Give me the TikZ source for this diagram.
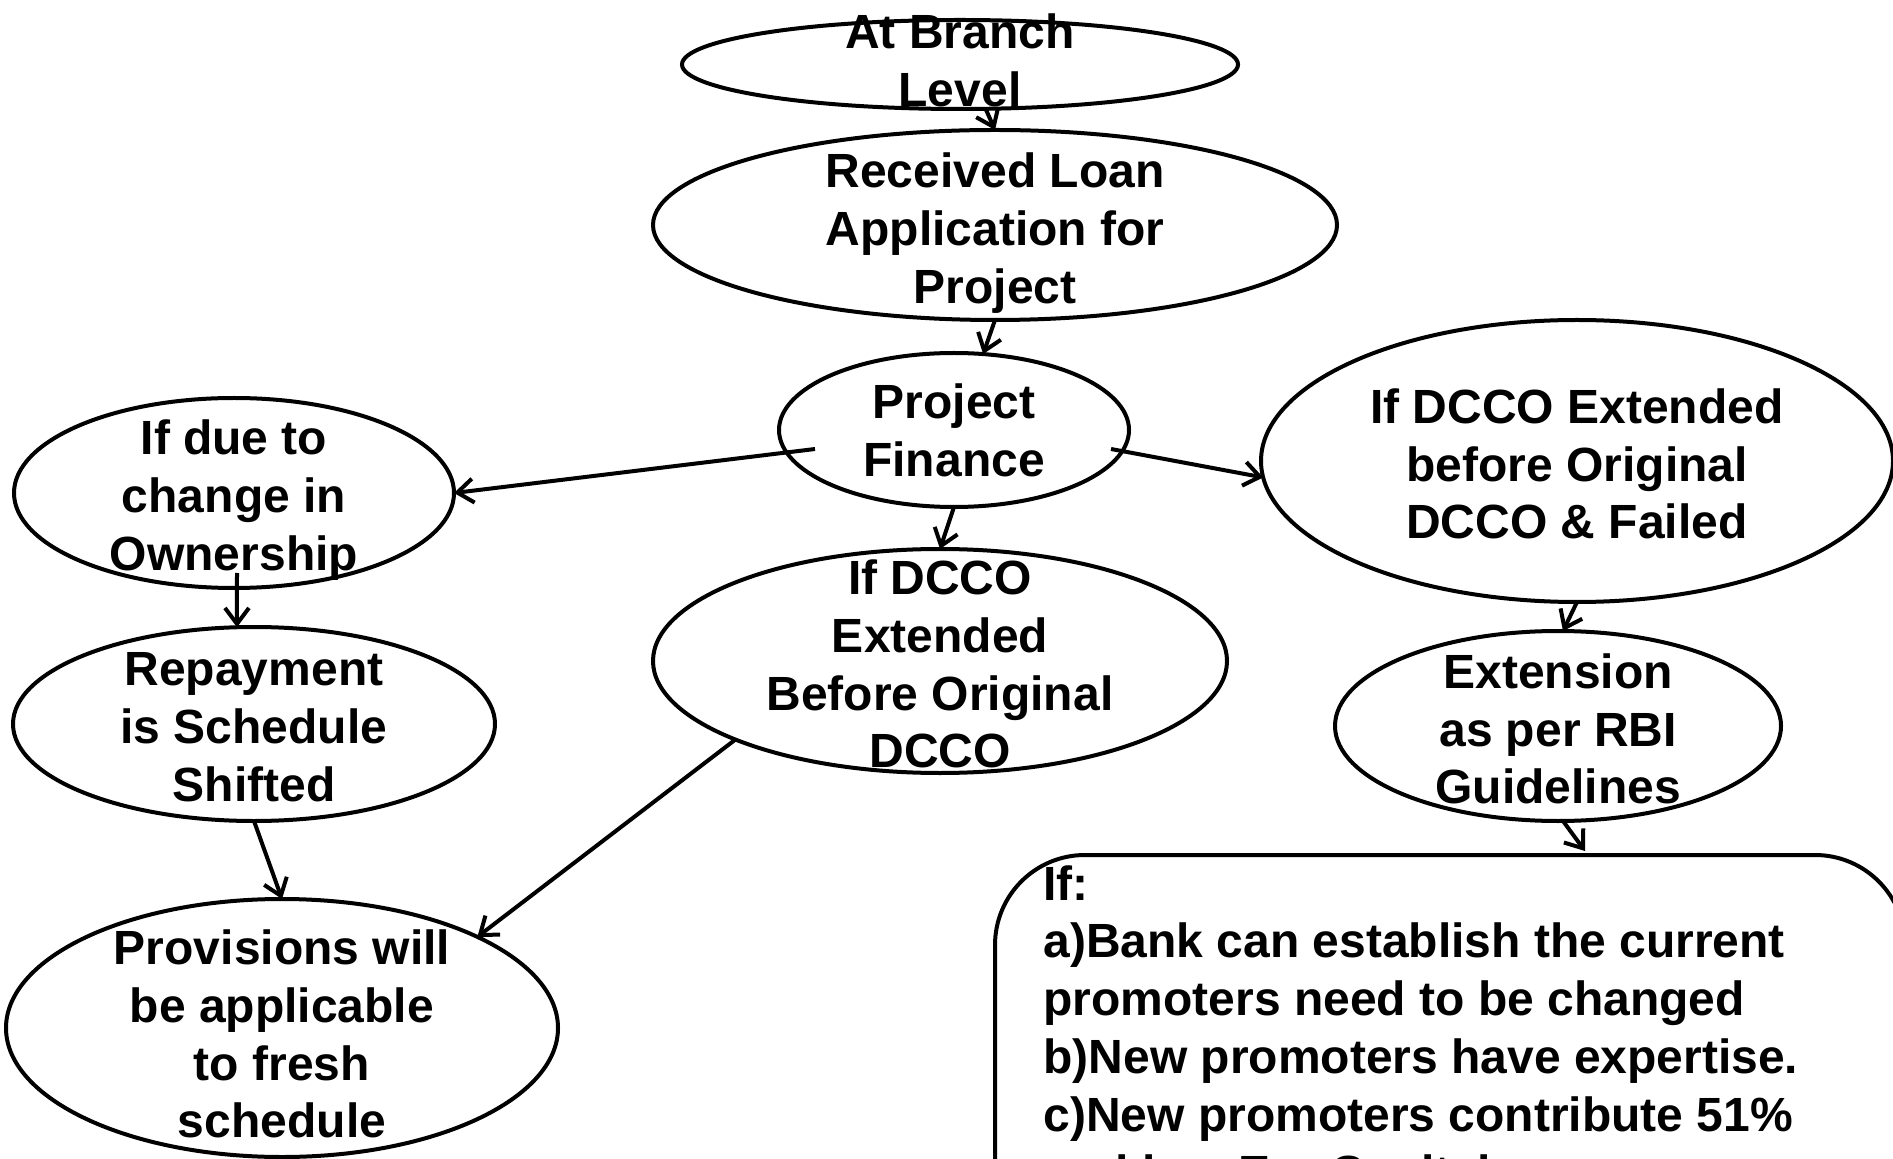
\documentclass[tikz,border=0pt]{standalone}
\usepackage{fontspec}
\setmainfont{Liberation Sans}
\usetikzlibrary{shapes.geometric,arrows.meta,calc}
\begin{document}
\begin{tikzpicture}[x=0.5pt,y=-0.5pt,
  ell/.style={draw, ellipse, line width=2pt, inner sep=0pt, outer sep=0pt},
  txt/.style={align=center, font=\fontsize{24pt}{28.9pt}\selectfont\bfseries, inner sep=0pt},
  arr/.style={line width=2pt, -{Straight Barb[length=8pt,width=12pt,line width=2pt]}}]
\useasboundingbox (0,0) rectangle (1893,1159);
\clip (0,0) rectangle (1893,1159);
% ellipses
\node[ell, minimum width=278pt, minimum height=44.5pt] (e1) at (960,64.5) {};
\node[ell, minimum width=342pt, minimum height=95pt] (e2) at (995,225) {};
\node[ell, minimum width=175pt, minimum height=77pt] (e3) at (954,430) {};
\node[ell, minimum width=220pt, minimum height=95pt] (e4) at (234,493) {};
\node[ell, minimum width=316pt, minimum height=141pt] (e5) at (1577,461) {};
\node[ell, minimum width=241pt, minimum height=97pt] (e6) at (254,724) {};
\node[ell, minimum width=287pt, minimum height=112pt] (e7) at (940,661) {};
\node[ell, minimum width=223pt, minimum height=95pt] (e8) at (1558,726) {};
\node[ell, minimum width=276pt, minimum height=129pt] (e9) at (282,1028) {};
\node[draw, line width=2pt, rounded corners=45pt, minimum width=455pt, minimum height=225pt, anchor=north west, inner sep=0pt, outer sep=0pt] (box) at (995,855) {};
% texts
\node[txt] (t1) at ($(e1)+(0,-4)$) {At Branch\\Level};
\node[txt] (t2) at ($(e2)+(0,8)$) {Received Loan\\Application for\\Project};
\node[txt] (t3) at (e3) {Project\\Finance};
\node[txt] (t4) at ($(e4)+(0,7)$) {If due to\\change in\\Ownership};
\node[txt] (t5) at ($(e5)+(0,3)$) {If DCCO Extended\\before Original\\DCCO \& Failed};
\node[txt] (t6) at ($(e6)+(0,3)$) {Repayment\\is Schedule\\Shifted};
\node[txt] (t7) at ($(e7)+(0,3)$) {If DCCO\\Extended\\Before Original\\DCCO};
\node[txt] (t8) at ($(e8)+(0,3)$) {Extension\\as per RBI\\Guidelines};
\node[txt] (t9) at ($(e9)+(0,6)$) {Provisions will\\be applicable\\to fresh\\schedule};
\node[txt, align=left, anchor=north west] (boxtxt) at (1043,865) {If:\\a)Bank can establish the current\\promoters need to be changed\\b)New promoters have expertise.\\c)New promoters contribute 51\%\\and has Eq. Capital};
% connectors
\draw[arr] (e1.-60) -- (e2.north);
\draw[arr] (e2.south) -- (e3.69);
\draw[arr] ($(e3)+(-139,19)$) -- (e4.east);
\draw[arr] ($(e3)+(157,19)$) -- (e5.183);
\draw[arr] (e3.south) -- (e7.north);
\draw[arr] ($(e4.south)+(3,-15)$) -- (e6.100);
\draw[arr] (e6.south) -- (e9.north);
\draw[arr] (e7.201) -- (e9.25);
\draw[arr] (e5.south) -- (e8.87);
\draw[arr] (e8.-87) -- ($(box.north west)+(590,-4)$);
\end{tikzpicture}
\end{document}
